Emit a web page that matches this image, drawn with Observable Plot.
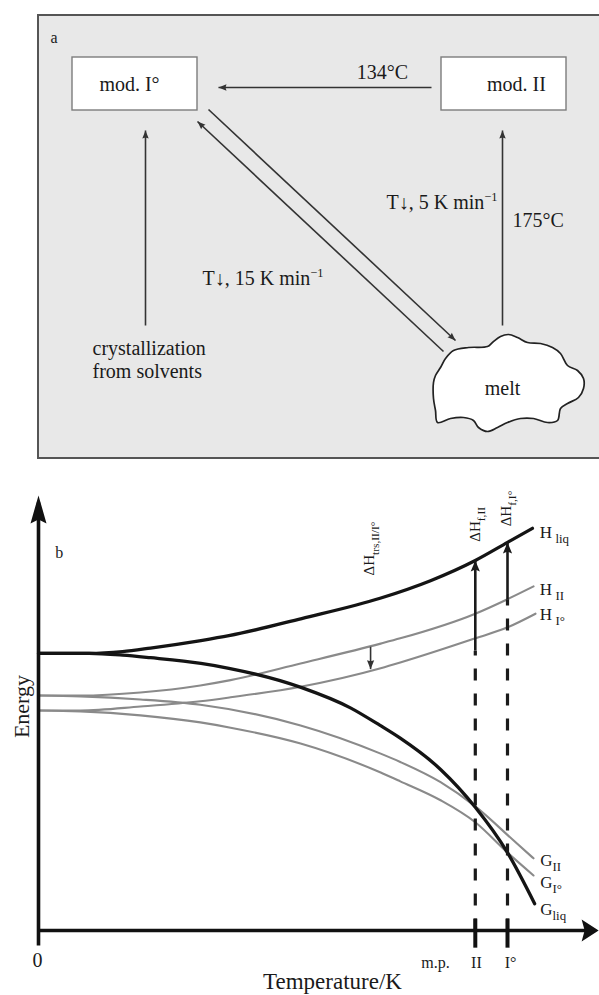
<!DOCTYPE html>
<html><head><meta charset="utf-8">
<script src="https://cdn.jsdelivr.net/npm/d3@7"></script>
<script src="https://cdn.jsdelivr.net/npm/@observablehq/plot@0.6"></script>
<style>
html,body{margin:0;padding:0;background:#fff;overflow:hidden;}
#chart svg{display:block;font-family:'Liberation Serif','DejaVu Serif',serif;}
#chart svg text{font-family:'Liberation Serif','DejaVu Serif',serif;}
</style></head><body><div id="chart"></div>
<script>
const SERIF = "Liberation Serif";
const SVGNS = "http://www.w3.org/2000/svg";

// ---------- panel a : transformation scheme (scheme units) ----------
const frameA = [{x1: 38, x2: 601, y1: 15, y2: 458}];
const boxes = [
  {name: "mod. I°", x1: 72, x2: 197, y1: 57, y2: 110, tx: 129, ty: 84},
  {name: "mod. II", x1: 441, x2: 566, y1: 57, y2: 110, tx: 516, ty: 84}
];
const transitions = [
  {from: "mod. II", to: "mod. I°", x1: 431, y1: 87, x2: 218, y2: 87},
  {from: "solvents", to: "mod. I°", x1: 145, y1: 325, x2: 145, y2: 130},
  {from: "melt", to: "mod. II", x1: 502, y1: 325, x2: 502, y2: 130},
  {from: "mod. I°", to: "melt", x1: 208, y1: 109, x2: 455, y2: 340},
  {from: "melt", to: "mod. I°", x1: 443, y1: 351, x2: 197, y2: 121}
];
const meltOutline = [
  [453,350],[468,347],[487,346],[492,342],[500,336],[508,334],[517,337],[527,342],
  [540,343],[552,347],[560,353],[567,365],[577,370],[583,378],[583,388],[578,397],
  [567,403],[560,408],[557,420],[547,422],[533,418],[520,418],[507,422],[497,427],
  [487,431],[478,427],[473,420],[463,417],[450,418],[437,422],[435,410],[433,398],
  [433,382],[435,375],[440,367],[445,358]
];
const panelLetterA = [{text: "a", x: 50, y: 37}];
const labelsA_middle = [
  {text: "134°C", x: 382, y: 72},
  {text: "melt", x: 502, y: 388}
];
const labelsA_start = [
  {text: "175°C", x: 512, y: 220},
  {text: "T\u2193, 15 K min^{−1}", x: 202, y: 278},
  {text: "crystallization", x: 92, y: 348},
  {text: "from solvents", x: 92, y: 371}
];
const labelsA_end = [
  {text: "T\u2193, 5 K min^{−1}", x: 497, y: 202}
];

// ---------- panel b : energy / temperature diagram (T, E units) ----------
const series = [
  {name: "H_liq", phase: "liquid",
   T: [0, 9, 15, 20, 29, 34, 47, 61, 70, 78, 83.75, 88.2],
   E: [63, 63, 63.4, 64.2, 65.9, 67, 70.9, 75.5, 79.5, 84.1, 88.2, 91.4]},
  {name: "G_liq", phase: "liquid",
   T: [0, 9, 15, 20, 29, 34, 47, 55.7, 61, 64.6, 71.8, 78, 83.75, 88.6],
   E: [63, 63, 62.6, 62.0, 60.7, 59.6, 55.2, 50.6, 46.6, 43.7, 36.6, 28.0, 17.7, 6.1]},
  {name: "H_II", phase: "crystal",
   T: [0, 7.5, 18.2, 28.9, 34.3, 46.8, 61.1, 64.6, 78, 83.75, 88.4],
   E: [53.4, 53.4, 54.1, 55.7, 56.9, 60.7, 65.2, 66.4, 72.0, 75.3, 78.2]},
  {name: "G_II", phase: "crystal",
   T: [0, 7.5, 18.2, 28.9, 46.8, 61.1, 64.6, 71.8, 78, 84.8, 88.4],
   E: [53.4, 53.2, 52.5, 51.3, 46.6, 40.2, 38.3, 33.7, 28.2, 20.5, 16.4]},
  {name: "H_I", phase: "crystal",
   T: [0, 7.5, 18.2, 28.9, 34.3, 46.8, 61.1, 64.6, 78, 83.75, 88.75],
   E: [50, 50, 50.9, 52.1, 53.0, 55.4, 59.6, 60.9, 66.4, 68.9, 72.0]},
  {name: "G_I", phase: "crystal",
   T: [0, 7.5, 18.2, 28.9, 34.3, 46.8, 61.1, 64.6, 71.8, 78, 83.75, 88.4],
   E: [50, 49.8, 48.9, 47.3, 46.1, 42.5, 35.9, 33.9, 29.6, 24.6, 17.7, 12.5]}
];
const meltingPoints = [
  {name: "II", T: 78, Hsolid: 63.6, Hliq: 84.1},
  {name: "I°", T: 83.75, Hsolid: 75.3, Hliq: 88.2}
];
const transitionEnthalpy = [{T: 59.3, from: 64.5, to: 59.4}];
const axisX = [{T1: 0, T2: 99.4, E: 0}];
const axisY = [{T: 0, E1: -3.4, E2: 97.3}];
const tickSpan = [-3.9, 2.7];
const curveLabels = [
  {text: "H\u2009_{liq}", T: 89.5, E: 90.5},
  {text: "H\u2009_{II}", T: 89.5, E: 77.6},
  {text: "H\u2009_{I°}", T: 89.5, E: 71.8},
  {text: "G_{II}", T: 89.6, E: 16.0},
  {text: "G_{I°}", T: 89.6, E: 10.9},
  {text: "G_{liq}", T: 89.6, E: 4.8}
];
const enthalpyLabels = [
  {text: "ΔH_{trs,II/I°}", T: 59.1, E: 86.8},
  {text: "ΔH_{f,II}", T: 78.0, E: 92.3},
  {text: "ΔH_{f,I°}", T: 83.6, E: 95.9}
];
const tickLabels = [
  {text: "m.p.", T: 70.9, E: -7.3},
  {text: "II", T: 78.2, E: -7.3},
  {text: "I°", T: 84.3, E: -7.3}
];
const zeroLabel = [{text: "0", T: -0.2, E: -6.8}];
const xTitle = [{text: "Temperature/K", T: 52.5, E: -11.6}];
const yTitle = [{text: "Energy", T: -3.0, E: 50.9}];
const panelLetterB = [{text: "b", T: 3.0, E: 85.9}];

// ---------- helpers ----------
function filledHead(len, half, back = 0, inset = 0) {
  return (color) => {
    const m = document.createElementNS(SVGNS, "marker");
    m.setAttribute("viewBox", `0 ${-half} ${len} ${2 * half}`);
    m.setAttribute("markerUnits", "userSpaceOnUse");
    m.setAttribute("markerWidth", len);
    m.setAttribute("markerHeight", 2 * half);
    m.setAttribute("refX", len - inset);
    m.setAttribute("refY", 0);
    m.setAttribute("orient", "auto");
    m.setAttribute("overflow", "visible");
    const p = document.createElementNS(SVGNS, "path");
    p.setAttribute("d", `M0,${-half}L${len},0L0,${half}L${back},0Z`);
    p.setAttribute("fill", color);
    p.setAttribute("stroke", "none");
    m.appendChild(p);
    return m;
  };
}
function richText(svg) {
  svg.querySelectorAll("text").forEach((t) => {
    const s = t.textContent;
    if (!/[_^]\{/.test(s)) return;
    const fs = parseFloat(getComputedStyle(t).fontSize) || 16;
    while (t.firstChild) t.removeChild(t.firstChild);
    const re = /([_^])\{([^}]*)\}|([^_^]+)/g;
    let m, shift = 0;
    while ((m = re.exec(s))) {
      const ts = document.createElementNS(SVGNS, "tspan");
      let target = 0;
      if (m[1] === "_") { target = fs * 0.3; ts.setAttribute("font-size", (fs * 0.76).toFixed(1)); ts.textContent = m[2]; }
      else if (m[1] === "^") { target = -fs * 0.42; ts.setAttribute("font-size", (fs * 0.62).toFixed(1)); ts.textContent = m[2]; }
      else { ts.textContent = m[3]; }
      const dy = target - shift;
      if (dy) ts.setAttribute("dy", dy.toFixed(2));
      shift = target;
      t.appendChild(ts);
    }
  });
}
const txt = (data, opts) => Plot.text(data, {fontFamily: SERIF, fill: "#1a1a1a", ...opts});

// ---------- panel a ----------
const plotA = Plot.plot({
  width: 599, height: 470, margin: 0,
  x: {domain: [0, 599], range: [0, 599], axis: null},
  y: {domain: [0, 470], range: [0, 470], axis: null},
  style: {background: "white", overflow: "visible"},
  marks: [
    Plot.rect(frameA, {x1: "x1", x2: "x2", y1: "y1", y2: "y2", fill: "#e8e8e8", stroke: "#555", strokeWidth: 2}),
    Plot.rect(boxes, {x1: "x1", x2: "x2", y1: "y1", y2: "y2", fill: "white", stroke: "#7d7d7d", strokeWidth: 1.4}),
    txt(boxes, {x: "tx", y: "ty", text: "name", fontSize: 20, textAnchor: "middle"}),
    Plot.link(transitions, {x1: "x1", y1: "y1", x2: "x2", y2: "y2", stroke: "#333", strokeWidth: 1.6,
      markerEnd: filledHead(8, 3.2, 1, 0)}),
    Plot.line(meltOutline, {x: (d) => d[0], y: (d) => d[1], curve: "catmull-rom-closed",
      fill: "white", stroke: "#222", strokeWidth: 1.7}),
    txt(panelLetterA, {x: "x", y: "y", text: "text", fontSize: 16, textAnchor: "start"}),
    txt(labelsA_middle, {x: "x", y: "y", text: "text", fontSize: 20, textAnchor: "middle"}),
    txt(labelsA_start, {x: "x", y: "y", text: "text", fontSize: 20, textAnchor: "start"}),
    txt(labelsA_end, {x: "x", y: "y", text: "text", fontSize: 20, textAnchor: "end"})
  ]
});

// ---------- panel b ----------
const curveRows = series.flatMap((s) => s.T.map((t, i) => ({name: s.name, phase: s.phase, T: t, E: s.E[i]})));
const plotB = Plot.plot({
  width: 599, height: 525, margin: 0,
  x: {domain: [0, 100], range: [38, 598], axis: null},
  y: {domain: [0, 100], range: [460, 20], axis: null},
  style: {background: "white", overflow: "visible"},
  marks: [
    Plot.line(curveRows.filter((d) => d.phase === "crystal"),
      {x: "T", y: "E", z: "name", stroke: "#8a8a8a", strokeWidth: 2.1, curve: "monotone-x"}),
    Plot.line(curveRows.filter((d) => d.phase === "liquid"),
      {x: "T", y: "E", z: "name", stroke: "#141414", strokeWidth: 3.3, curve: "monotone-x"}),
    Plot.link(meltingPoints, {x1: "T", x2: "T", y1: 0, y2: "Hsolid", stroke: "#1a1a1a", strokeWidth: 3.2,
      strokeDasharray: "12,13"}),
    Plot.link(meltingPoints, {x1: "T", x2: "T", y1: tickSpan[0], y2: tickSpan[1], stroke: "#111", strokeWidth: 4}),
    Plot.link(meltingPoints, {x1: "T", x2: "T", y1: "Hsolid", y2: "Hliq", stroke: "#1a1a1a", strokeWidth: 2.6,
      markerEnd: filledHead(11, 4.6, 2, 0)}),
    Plot.link(transitionEnthalpy, {x1: "T", x2: "T", y1: "from", y2: "to", stroke: "#333", strokeWidth: 1.6,
      markerEnd: filledHead(9, 3.6, 1, 0)}),
    Plot.link(axisX, {x1: "T1", x2: "T2", y1: "E", y2: "E", stroke: "#111", strokeWidth: 3.6,
      markerEnd: filledHead(17, 11, 3, 3.5)}),
    Plot.link(axisY, {x1: "T", x2: "T", y1: "E1", y2: "E2", stroke: "#111", strokeWidth: 3.6,
      markerEnd: filledHead(28, 8, 4, 7)}),
    txt(curveLabels, {x: "T", y: "E", text: "text", fontSize: 17, textAnchor: "start"}),
    txt(enthalpyLabels, {x: "T", y: "E", text: "text", fontSize: 15, textAnchor: "middle", rotate: -90}),
    txt(tickLabels, {x: "T", y: "E", text: "text", fontSize: 16, textAnchor: "middle"}),
    txt(zeroLabel, {x: "T", y: "E", text: "text", fontSize: 20, textAnchor: "middle"}),
    txt(xTitle, {x: "T", y: "E", text: "text", fontSize: 23, textAnchor: "middle"}),
    txt(yTitle, {x: "T", y: "E", text: "text", fontSize: 22, textAnchor: "middle", rotate: -90}),
    txt(panelLetterB, {x: "T", y: "E", text: "text", fontSize: 16, textAnchor: "start"})
  ]
});

const chart = document.getElementById("chart");
chart.appendChild(plotA);
chart.appendChild(plotB);
richText(plotA);
richText(plotB);
</script></body></html>
